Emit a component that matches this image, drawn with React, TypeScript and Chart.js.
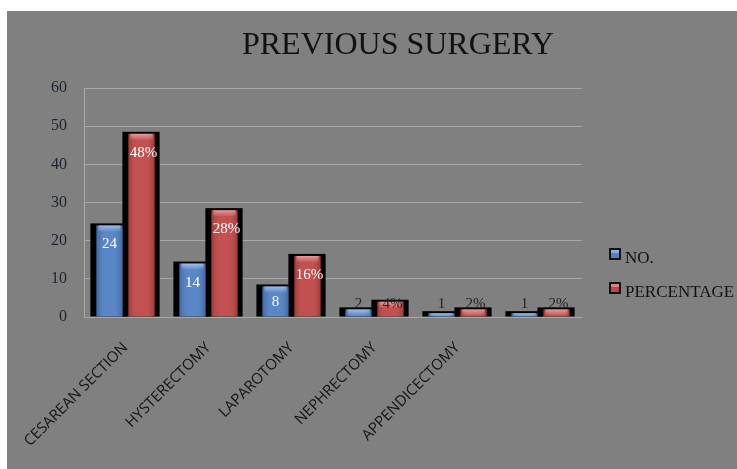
import { useEffect, useRef } from 'react';
import { Chart, registerables } from 'chart.js';

Chart.register(...registerables);

// Chart data
const categories = ['CESAREAN SECTION', 'HYSTERECTOMY', 'LAPAROTOMY', 'NEPHRECTOMY', 'APPENDICECTOMY', ''];
const countValues = [24, 14, 8, 2, 1, 1];
const percentValues = [48, 28, 16, 4, 2, 2];
const yTickMin = 0;
const yTickMax = 60;
const yTickStep = 10;
const seriesNames = ['NO.', 'PERCENTAGE'];
const chartTitle = 'PREVIOUS SURGERY';

const BLUE = '#4f7fc4';
const RED = '#c04646';
const SERIF = '"Liberation Serif", "Times New Roman", serif';

function shade(ctx: CanvasRenderingContext2D, x0: number, x1: number) {
  const g = ctx.createLinearGradient(x0, 0, x1, 0);
  g.addColorStop(0, 'rgba(0,0,0,0.18)');
  g.addColorStop(0.35, 'rgba(255,255,255,0.06)');
  g.addColorStop(0.65, 'rgba(255,255,255,0.06)');
  g.addColorStop(1, 'rgba(0,0,0,0.18)');
  return g;
}

const barDecor = {
  id: 'barDecor',
  beforeDatasetsDraw(chart: any) {
    const ctx = chart.ctx as CanvasRenderingContext2D;
    ctx.save();
    ctx.fillStyle = '#000';
    chart.data.datasets.forEach((_: any, i: number) => {
      chart.getDatasetMeta(i).data.forEach((bar: any) => {
        const { x, y, base, width } = bar.getProps(['x', 'y', 'base', 'width'], true);
        ctx.fillRect(x - width / 2 - 6, y - 2, width + 11, base - y + 2);
      });
    });
    ctx.restore();
  },
  afterDatasetsDraw(chart: any) {
    const ctx = chart.ctx as CanvasRenderingContext2D;
    ctx.save();
    chart.data.datasets.forEach((ds: any, i: number) => {
      chart.getDatasetMeta(i).data.forEach((bar: any, j: number) => {
        const { x, y, base, width } = bar.getProps(['x', 'y', 'base', 'width'], true);
        const left = x - width / 2;
        const h = base - y;
        // side shading
        ctx.fillStyle = shade(ctx, left, left + width);
        ctx.fillRect(left, y, width, h);
        // glossy top cap
        const capH = Math.min(6, h);
        const cg = ctx.createLinearGradient(0, y, 0, y + capH);
        cg.addColorStop(0, 'rgba(255,255,255,0.45)');
        cg.addColorStop(1, 'rgba(255,255,255,0.05)');
        ctx.fillStyle = cg;
        ctx.fillRect(left + 2, y, width - 4, capH);

        // value label
        const v = ds.data[j] as number;
        const txt = i === 1 ? `${v}%` : `${v}`;
        const inside = v >= 8;
        const ly = inside ? Math.min(y + 19, base - 14) : base - 12;
        ctx.font = `15px ${SERIF}`;
        ctx.textAlign = 'center';
        ctx.textBaseline = 'middle';
        ctx.fillStyle = inside ? '#ffffff' : '#222222';
        ctx.fillText(txt, x + (i === 1 ? 2 : 0), ly);
      });
    });
    ctx.restore();
  },
  afterDraw(chart: any) {
    const ctx = chart.ctx as CanvasRenderingContext2D;
    ctx.save();
    // title
    ctx.font = `32px ${SERIF}`;
    ctx.fillStyle = '#111111';
    ctx.textAlign = 'center';
    ctx.textBaseline = 'middle';
    ctx.fillText(chartTitle, 391, 35);

    // legend
    const colors = [BLUE, RED];
    const rows = [237, 271];
    ctx.font = `17px ${SERIF}`;
    ctx.textAlign = 'left';
    ctx.textBaseline = 'alphabetic';
    seriesNames.forEach((name, i) => {
      const ry = rows[i];
      ctx.fillStyle = '#111';
      ctx.fillRect(602, ry, 12, 12);
      ctx.fillStyle = colors[i];
      ctx.fillRect(604, ry + 2, 8, 8);
      ctx.fillStyle = 'rgba(255,255,255,0.35)';
      ctx.fillRect(604, ry + 2, 8, 3);
      ctx.fillStyle = '#111111';
      ctx.fillText(name, 618, ry + 15);
    });
    ctx.restore();
  },
};

export default function App() {
  const canvasRef = useRef<HTMLCanvasElement | null>(null);

  useEffect(() => {
    if (!canvasRef.current) return;
    const chart = new Chart(canvasRef.current, {
      type: 'bar',
      data: {
        labels: categories,
        datasets: [
          {
            label: seriesNames[0],
            data: countValues,
            backgroundColor: BLUE,
            categoryPercentage: 0.771,
            barPercentage: 0.82,
          },
          {
            label: seriesNames[1],
            data: percentValues,
            backgroundColor: RED,
            categoryPercentage: 0.771,
            barPercentage: 0.82,
          },
        ],
      },
      options: {
        animation: false,
        responsive: false,
        maintainAspectRatio: false,
        layout: { padding: { left: 0, right: 155, top: 77, bottom: 0 } },
        plugins: {
          legend: { display: false },
          title: { display: false },
          tooltip: { enabled: false },
        },
        scales: {
          x: {
            grid: { display: false, drawTicks: false },
            border: { display: true, color: '#a8a8a8', width: 1 },
            ticks: {
              minRotation: 45,
              maxRotation: 45,
              autoSkip: false,
              padding: 22,
              color: '#141414',
              font: { family: '"Open Sans", "Noto Sans", sans-serif', size: 15 },
            },
            afterFit(scale: any) {
              scale.height = 152;
              scale.paddingLeft = 0;
              scale.paddingRight = 0;
            },
          },
          y: {
            min: yTickMin,
            max: yTickMax,
            ticks: {
              stepSize: yTickStep,
              padding: 17,
              color: '#1c2330',
              font: { family: SERIF, size: 16 },
            },
            grid: { color: '#a8a8a8', lineWidth: 1, drawTicks: false },
            border: { display: true, color: '#a8a8a8', width: 1 },
            afterFit(scale: any) {
              scale.width = 77;
              scale.paddingTop = 0;
              scale.paddingBottom = 0;
            },
          },
        },
      },
      plugins: [barDecor],
    });
    return () => chart.destroy();
  }, []);

  return (
    <div
      style={{
        position: 'fixed',
        left: 0,
        top: 0,
        width: 737,
        height: 469,
        background: '#ffffff',
      }}
    >
      <div
        style={{
          position: 'absolute',
          left: 7,
          top: 11,
          width: 730,
          height: 458,
          background: '#808080',
        }}
      >
        <canvas ref={canvasRef} width={730} height={458} style={{ display: 'block' }} />
      </div>
    </div>
  );
}
